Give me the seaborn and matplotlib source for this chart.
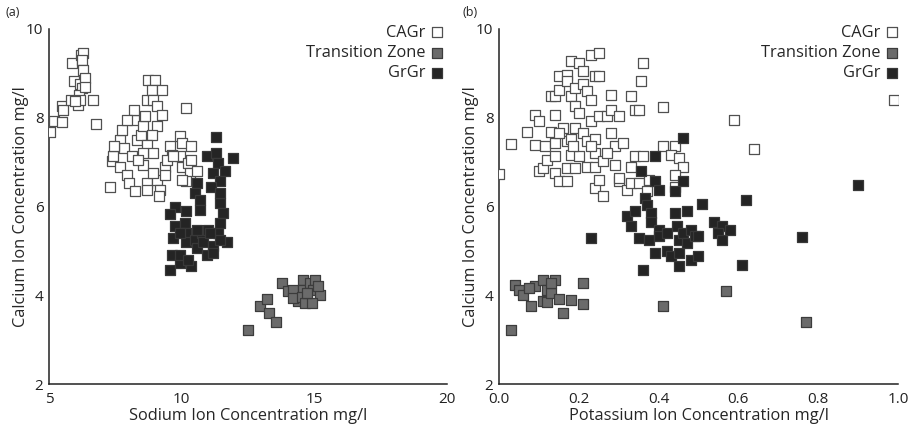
import matplotlib
matplotlib.use("Agg")
import matplotlib.pyplot as plt
import seaborn as sns
import pandas as pd

# ---------------- data: panel (a) Sodium vs Calcium ----------------
a_cagr_x = [5.04, 5.2, 5.5, 5.5, 5.54, 5.82, 5.94, 5.85, 6.2, 6.3, 6.23, 6.3, 6.17, 6.23, 6.14, 6.1,
            6.36, 6.36, 6.65, 6.76, 6.17, 5.98,
            7.3, 7.36, 7.4, 7.68, 7.74, 7.83, 7.68, 7.93, 8.0, 8.25, 8.19, 8.19, 8.32, 8.45, 8.55,
            8.62, 8.68, 8.74, 8.99, 8.87, 9.25, 8.93, 9.06, 9.25, 9.06, 8.87, 8.68, 8.55, 8.68,
            8.68, 9.06, 9.19, 9.16, 8.93, 9.37, 9.37, 9.56, 9.62, 9.94, 10.0, 10.37, 9.94, 10.0,
            10.25, 10.37, 10.31, 10.56, 10.18, 10.0, 10.18, 7.93, 8.12, 7.46, 8.55, 8.37, 9.43,
            9.69, 8.93]
a_cagr_y = [7.69, 7.92, 7.9, 8.27, 8.18, 8.41, 8.82, 9.23, 9.42, 9.46, 9.31, 9.08, 8.75, 8.67, 8.52, 8.29,
            8.9, 8.7, 8.41, 7.87, 8.41, 8.37,
            6.45, 7.02, 7.13, 7.5, 7.73, 7.32, 6.9, 6.72, 6.53, 6.34, 7.96, 8.18, 7.5, 7.62, 7.81,
            8.03, 8.41, 8.86, 8.86, 8.63, 8.63, 8.41, 8.26, 8.07, 7.81, 7.62, 7.39, 6.94, 6.53,
            6.38, 6.6, 6.38, 6.23, 7.2, 6.9, 6.72, 7.36, 7.17, 7.58, 7.43, 7.36, 7.13, 6.9,
            6.98, 7.05, 6.75, 6.79, 6.57, 6.6, 8.22, 7.96, 7.13, 7.36, 7.2, 7.05, 7.05,
            7.13, 6.75]

a_tz_x = [12.51, 12.95, 13.2, 13.3, 13.54, 13.77, 14.02, 14.21, 14.4, 14.21, 14.59, 14.59, 14.53,
          14.65, 14.84, 15.03, 14.96, 15.22, 14.9, 15.15, 14.71]
a_tz_y = [3.22, 3.76, 3.92, 3.6, 3.4, 4.27, 4.09, 4.12, 3.86, 3.94, 4.35, 4.12, 3.97,
          3.82, 4.27, 4.35, 4.12, 4.01, 3.82, 4.2, 4.05]

a_grgr_x = [11.29, 10.96, 11.31, 11.92, 11.37, 11.18, 11.63, 11.44, 11.12, 10.56, 10.5, 10.69, 10.69,
            11.44, 11.56, 9.75, 9.56, 10.18, 9.75, 10.12, 9.69, 10.18, 10.18, 10.5, 10.56, 10.75,
            10.81, 10.94, 11.0, 11.18, 11.18, 11.37, 11.44, 11.69, 11.44, 9.62, 9.56, 9.94, 9.94,
            10.37, 10.25, 9.94, 10.56, 11.06, 11.44]
a_grgr_y = [7.56, 7.13, 7.2, 7.09, 6.98, 6.75, 6.79, 6.57, 6.45, 6.53, 6.3, 6.15, 5.91,
            6.08, 5.85, 6.0, 5.82, 5.89, 5.55, 5.63, 5.29, 5.4, 5.21, 5.25, 5.06, 5.4,
            5.21, 4.91, 5.48, 5.1, 4.95, 5.4, 5.63, 5.21, 5.25, 4.91, 4.58, 4.73, 4.91,
            4.65, 4.8, 5.4, 5.48, 5.4, 6.3]

# ---------------- data: panel (b) Potassium vs Calcium ----------------
b_cagr_x = [0.0, 0.03, 0.07, 0.09, 0.10, 0.09, 0.10, 0.11, 0.115, 0.12, 0.13, 0.14, 0.14, 0.13, 0.14,
            0.14, 0.14, 0.15, 0.15, 0.15, 0.17, 0.18, 0.17, 0.18, 0.19, 0.16, 0.17, 0.17, 0.17,
            0.19, 0.20, 0.21, 0.21, 0.22, 0.20, 0.19, 0.18, 0.18, 0.19, 0.20, 0.21, 0.22, 0.22,
            0.23, 0.23, 0.24, 0.23, 0.25, 0.25, 0.24, 0.24, 0.24, 0.24, 0.25, 0.26, 0.26, 0.25,
            0.27, 0.28, 0.28, 0.28, 0.29, 0.29, 0.30, 0.30, 0.30, 0.31, 0.32, 0.33, 0.34, 0.35,
            0.33, 0.34, 0.36, 0.355, 0.36, 0.33, 0.35, 0.37, 0.375, 0.41, 0.41, 0.44, 0.43, 0.45,
            0.46, 0.44, 0.44, 0.59, 0.64, 0.99, 0.15, 0.185, 0.23, 0.27]
b_cagr_y = [6.74, 7.41, 7.69, 8.07, 7.92, 7.39, 6.79, 6.87, 7.36, 7.05, 8.48, 8.48, 8.07, 7.69, 7.43,
            7.13, 6.75, 6.57, 8.63, 8.95, 8.97, 9.29, 8.82, 8.48, 8.26, 7.77, 7.47, 6.87, 6.57,
            8.67, 9.23, 8.75, 9.05, 8.6, 8.11, 7.77, 7.51, 7.17, 6.87, 7.13, 7.66, 7.47, 6.9,
            7.92, 8.41, 8.93, 9.42, 9.47, 8.93, 7.51, 7.2, 6.9, 6.42, 6.6, 6.23, 7.02, 8.03,
            8.03, 8.52, 8.18, 7.66, 7.36, 6.94, 8.03, 6.57, 6.64, 7.43, 6.38, 8.48, 8.18, 8.18,
            6.9, 7.13, 7.13, 8.82, 9.23, 6.53, 6.53, 6.34, 6.6, 8.24, 7.36, 7.36, 7.17, 7.1,
            6.9, 6.72, 6.45, 7.96, 7.3, 8.41, 7.66, 7.36, 7.36, 7.2]

b_tz_x = [0.03, 0.04, 0.05, 0.06, 0.08, 0.09, 0.11, 0.12, 0.11, 0.12, 0.13, 0.14, 0.15, 0.16, 0.18,
          0.21, 0.21, 0.41, 0.57, 0.77, 0.074, 0.13]
b_tz_y = [3.22, 4.24, 4.12, 4.01, 3.76, 4.2, 4.35, 4.12, 3.86, 3.84, 4.05, 4.35, 3.91, 3.6, 3.9,
          4.27, 3.81, 3.75, 4.09, 3.4, 4.17, 4.27]

b_grgr_x = [0.23, 0.36, 0.32, 0.34, 0.33, 0.35, 0.355, 0.365, 0.37, 0.38, 0.38, 0.375, 0.39, 0.39,
            0.39, 0.40, 0.40, 0.40, 0.42, 0.42, 0.43, 0.44, 0.445, 0.45, 0.45, 0.45, 0.46, 0.47,
            0.47, 0.48, 0.48, 0.49, 0.50, 0.50, 0.46, 0.46, 0.51, 0.54, 0.56, 0.55, 0.56, 0.58,
            0.61, 0.62, 0.76, 0.9, 0.44]
b_grgr_y = [5.29, 4.58, 5.79, 5.89, 5.55, 5.29, 6.79, 6.19, 6.04, 5.85, 5.66, 5.25, 4.95, 7.13,
            6.57, 6.38, 5.48, 5.33, 5.4, 4.99, 4.88, 5.85, 5.55, 5.25, 4.95, 4.65, 5.4, 5.89,
            5.18, 4.8, 5.48, 5.33, 4.88, 5.33, 7.55, 6.57, 6.06, 5.66, 5.55, 5.4, 5.25, 5.48,
            4.69, 6.14, 5.31, 6.49, 6.34]

groups = ["CAGr", "Transition Zone", "GrGr"]
face = {"CAGr": "white", "Transition Zone": "#6b6b6b", "GrGr": "#242424"}
edge = {"CAGr": "#505050", "Transition Zone": "#3c3c3c", "GrGr": "#383838"}

x_ticks_a = [5, 10, 15, 20]
x_ticklabels_a = ["5", "10", "15", "20"]
x_ticks_b = [0.0, 0.2, 0.4, 0.6, 0.8, 1.0]
x_ticklabels_b = ["0.0", "0.2", "0.4", "0.6", "0.8", "1.0"]
y_ticks = [2, 4, 6, 8, 10]
y_ticklabels = ["2", "4", "6", "8", "10"]

def make_df(cx, cy, tx, ty, gx, gy):
    return pd.DataFrame({
        "x": cx + tx + gx,
        "y": cy + ty + gy,
        "zone": ["CAGr"] * len(cx) + ["Transition Zone"] * len(tx) + ["GrGr"] * len(gx),
    })

df_a = make_df(a_cagr_x, a_cagr_y, a_tz_x, a_tz_y, a_grgr_x, a_grgr_y)
df_b = make_df(b_cagr_x, b_cagr_y, b_tz_x, b_tz_y, b_grgr_x, b_grgr_y)

sns.set_style("white")
plt.rcParams["font.family"] = ["Open Sans", "DejaVu Sans"]

fig = plt.figure(figsize=(9.09, 4.30), dpi=100)
ax_a = fig.add_axes([49 / 909, 1 - 384 / 430, (447 - 49) / 909, (384 - 29) / 430])
ax_b = fig.add_axes([499 / 909, 1 - 384 / 430, (898 - 499) / 909, (384 - 29) / 430])

def draw(ax, df, xlim, xt, xtl, xlabel, tag, tagx, legx):
    for g in groups:
        sub = df[df["zone"] == g]
        sns.scatterplot(data=sub, x="x", y="y", ax=ax, marker="s", s=52,
                        color=face[g], edgecolor=edge[g], linewidth=0.9, label=g, zorder=3)
    ax.set_xlim(*xlim)
    ax.set_ylim(2, 10)
    ax.set_xticks(xt)
    ax.set_xticklabels(xtl)
    ax.set_yticks(y_ticks)
    ax.set_yticklabels(y_ticklabels)
    ax.set_xlabel(xlabel, fontsize=11.8, labelpad=0.5)
    ax.set_ylabel("Calcium Ion Concentration mg/l", fontsize=11.8, labelpad=-2)
    for s in ["top", "right"]:
        ax.spines[s].set_visible(False)
    for s in ["left", "bottom"]:
        ax.spines[s].set_color("#222222")
        ax.spines[s].set_linewidth(1.1)
    ax.tick_params(direction="in", length=7, width=1.1, labelsize=11, colors="#222222")
    ax.tick_params(axis="x", pad=6)
    ax.tick_params(axis="y", pad=4)
    ax.legend(loc="upper right", frameon=False, markerfirst=False, fontsize=11.8,
              handlelength=0.7, handletextpad=0.35, borderaxespad=0.0, borderpad=0.0,
              labelspacing=0.25, bbox_to_anchor=(legx, 1.012))
    fig.text(tagx / 909, 0.955, tag, fontsize=9, ha="left", va="bottom")

draw(ax_a, df_a, (5, 20), x_ticks_a, x_ticklabels_a, "Sodium Ion Concentration mg/l", "(a)", 6, 0.99)
draw(ax_b, df_b, (0.0, 1.0), x_ticks_b, x_ticklabels_b, "Potassium Ion Concentration mg/l", "(b)", 462, 1.0)

fig.savefig("out.png", dpi=100)
